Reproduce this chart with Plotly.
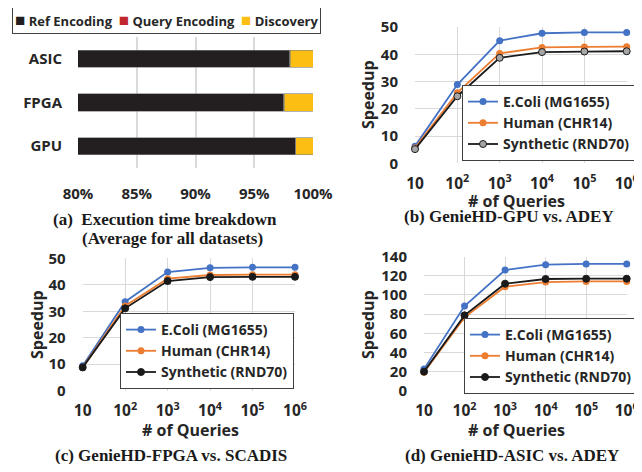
import plotly.graph_objects as go

# ---------------- data ----------------
platforms = ["GPU", "FPGA", "ASIC"]
ref_encoding = [98.5, 97.5, 98.0]
query_encoding = [0.05, 0.05, 0.05]
discovery = [1.45, 2.45, 1.95]
breakdown_ticks = [80, 85, 90, 95, 100]
breakdown_ticktext = ["80%", "85%", "90%", "95%", "100%"]

queries = [10, 100, 1000, 10000, 100000, 1000000]
query_ticktext = ["10", "10<sup>2</sup>", "10<sup>3</sup>", "10<sup>4</sup>", "10<sup>5</sup>", "10<sup>6</sup>"]
series_names = ["E.Coli (MG1655)", "Human (CHR14)", "Synthetic (RND70)"]

gpu_ecoli = [6.3, 28.9, 45.0, 47.7, 48.0, 48.0]
gpu_human = [5.6, 25.9, 40.3, 42.5, 42.7, 42.8]
gpu_synth = [5.2, 24.6, 38.7, 40.8, 41.0, 41.1]

fpga_ecoli = [9.4, 33.6, 44.8, 46.4, 46.6, 46.6]
fpga_human = [8.8, 32.0, 42.3, 43.7, 43.8, 43.8]
fpga_synth = [8.8, 31.1, 41.4, 42.9, 43.0, 43.0]

asic_ecoli = [22.6, 88.5, 126.0, 131.7, 132.4, 132.4]
asic_human = [19.2, 76.6, 108.7, 113.5, 114.2, 114.2]
asic_synth = [19.9, 78.7, 111.8, 116.7, 117.0, 117.0]

# ---------------- style ----------------
C_REF = "#231F20"
C_QUERY = "#C1272D"
C_DISC = "#FDBE14"
C_BLUE = "#4472C4"
C_ORANGE = "#ED7D31"
C_BLACK = "#1A1A1A"
C_GRAYMK = "#A5A5A5"
GRID = "#D9D9D9"
TXT = "#262626"
SANS = "Open Sans"
SERIF = "Liberation Serif"
OFF = 8
W, H = 642 - OFF, 472 - 2 * OFF

def fx(px):
    return (px - OFF) / W

def fy(py):
    return 1 - (py - OFF) / H

fig = go.Figure()

# ---------------- panel (a) ----------------
for name, vals, col in [("Ref Encoding", ref_encoding, C_REF),
                        ("Query Encoding", query_encoding, C_QUERY),
                        ("Discovery", discovery, C_DISC)]:
    fig.add_trace(go.Bar(y=platforms, x=vals, name=name, orientation="h",
                         marker=dict(color=col, line=dict(width=0.6, color="#7F7F7F")),
                         width=0.39, xaxis="x", yaxis="y", showlegend=False))

# ---------------- line panels ----------------
def add_lines(xa, ya, legend, ys, synth_marker):
    cols = [C_BLUE, C_ORANGE, C_BLACK]
    for i, (name, vals) in enumerate(zip(series_names, ys)):
        if i == 2:
            mk = dict(size=7, color=synth_marker, line=dict(width=1, color=C_BLACK))
        else:
            mk = dict(size=7, color=cols[i], line=dict(width=0))
        fig.add_trace(go.Scatter(x=queries, y=vals, name=name, mode="lines+markers",
                                 line=dict(color=cols[i], width=1.8), marker=mk,
                                 xaxis=xa, yaxis=ya, legend=legend, cliponaxis=False))

add_lines("x2", "y2", "legend2", [gpu_ecoli, gpu_human, gpu_synth], C_GRAYMK)
add_lines("x3", "y3", "legend3", [fpga_ecoli, fpga_human, fpga_synth], C_BLACK)
add_lines("x4", "y4", "legend4", [asic_ecoli, asic_human, asic_synth], C_BLACK)

tickfont = dict(family=SANS, size=15, color=TXT, weight="bold")
xtickfont = dict(family=SANS, size=15.5, color=TXT, weight="bold")

def logx(domain):
    return dict(domain=domain, type="log", range=[1, 6], tickvals=queries,
                ticktext=query_ticktext, showgrid=True, gridcolor=GRID, gridwidth=1,
                zeroline=False, showline=False, tickfont=xtickfont, ticks="",
                tickangle=0, ticklabelstandoff=9, ticklabeloverflow="allow",
                fixedrange=True, automargin=False)

def liny(domain, rng, dt):
    return dict(domain=domain, range=rng, dtick=dt, showgrid=True, gridcolor=GRID,
                gridwidth=1, zeroline=False, showline=False, tickfont=tickfont,
                ticks="", ticklabelstandoff=16, fixedrange=True, automargin=False)

legend_common = dict(bgcolor="white", bordercolor="#404040", borderwidth=1,
                     font=dict(family=SANS, size=14, color=TXT, weight="bold"),
                     xanchor="left", yanchor="middle", tracegroupgap=0,
                     itemwidth=30)

fig.update_layout(
    width=W, height=H, margin=dict(l=0, r=0, t=0, b=0, autoexpand=False),
    plot_bgcolor="white", paper_bgcolor="white",
    barmode="stack",
    xaxis=dict(domain=[fx(78), fx(313)], range=[80, 100], tickvals=breakdown_ticks,
               ticktext=breakdown_ticktext, showgrid=True, gridcolor=GRID, gridwidth=1.5,
               zeroline=False, showline=False, tickfont=tickfont, ticks="", tickangle=0,
               ticklabelstandoff=15, ticklabeloverflow="allow", fixedrange=True,
               automargin=False),
    yaxis=dict(domain=[fy(168), fy(37)], categoryorder="array", categoryarray=platforms,
               range=[-0.5, 2.5], showgrid=False, zeroline=False, showline=False,
               tickfont=dict(family=SANS, size=15, color=TXT, weight="bold"),
               ticks="", ticklabelstandoff=15, fixedrange=True, automargin=False),
    xaxis2=logx([fx(415), fx(626.7)]), yaxis2=liny([fy(163.3), fy(27)], [0, 50], 10),
    xaxis3=logx([fx(82.7), fx(295)]), yaxis3=liny([fy(390.7), fy(258.3)], [0, 50], 10),
    xaxis4=logx([fx(424), fx(626.7)]), yaxis4=liny([fy(390.7), fy(256.7)], [0, 140], 20),
    legend2=dict(x=fx(462), y=fy(123), **legend_common),
    legend3=dict(x=fx(120), y=fy(351), **legend_common),
    legend4=dict(x=fx(464), y=fy(356), **legend_common),
    showlegend=True,
)
fig.update_layout(xaxis2_anchor="y2", yaxis2_anchor="x2",
                  xaxis3_anchor="y3", yaxis3_anchor="x3",
                  xaxis4_anchor="y4", yaxis4_anchor="x4")

# ---------------- text ----------------
ann = []
sq = "\u25A0"

def sq_item(col):
    return f"<span style='color:{col};font-size:17px'>{sq}</span>"

leg_text = (f"{sq_item(C_REF)} Ref Encoding  {sq_item(C_QUERY)} Query Encoding  "
            f"{sq_item(C_DISC)} Discovery")
ann.append(dict(x=fx(166), y=fy(20), xref="paper", yref="paper", text=leg_text,
                showarrow=False, font=dict(family=SANS, size=13, color=TXT, weight="bold"),
                bordercolor="#404040", borderwidth=1, borderpad=2, bgcolor="white",
                xanchor="center", yanchor="middle"))

def title_ann(txt, x, y, angle=0):
    return dict(x=fx(x), y=fy(y), xref="paper", yref="paper", text=txt, showarrow=False,
                textangle=angle, xanchor="center", yanchor="middle",
                font=dict(family=SANS, size=16, color=TXT, weight="bold"))

ann += [title_ann("# of Queries", 516, 201), title_ann("# of Queries", 190, 430),
        title_ann("# of Queries", 516, 430),
        title_ann("Speedup", 368, 95, -90), title_ann("Speedup", 37, 325, -90),
        title_ann("Speedup", 368, 325, -90)]

def cap_ann(txt, x, y):
    return dict(x=fx(x), y=fy(y), xref="paper", yref="paper", text=txt, showarrow=False,
                xanchor="center", yanchor="middle",
                font=dict(family=SERIF, size=17, color="#1A1A1A", weight="bold"))

ann += [cap_ann("(a)  Execution time breakdown", 165, 219),
        cap_ann("(Average for all datasets)", 172, 239),
        cap_ann("(b) GenieHD-GPU vs. ADEY", 509, 217),
        cap_ann("(c) GenieHD-FPGA vs. SCADIS", 171, 455),
        cap_ann("(d) GenieHD-ASIC vs. ADEY", 512, 455)]

fig.update_layout(annotations=ann)
fig.write_html("out.html")
